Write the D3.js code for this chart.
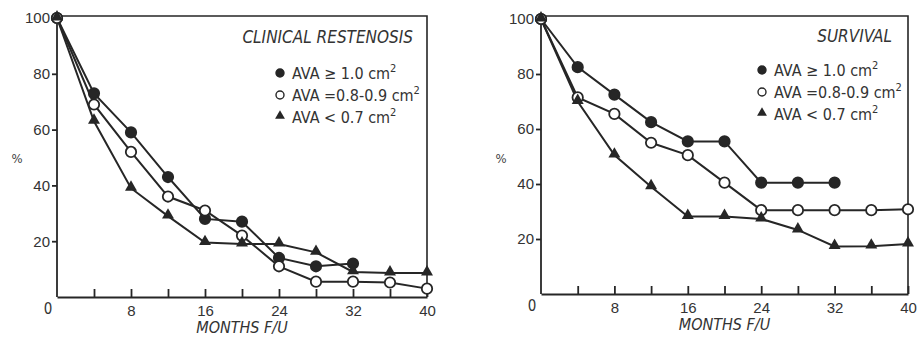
<!DOCTYPE html>
<html>
<head>
<meta charset="utf-8">
<script src="https://cdn.jsdelivr.net/npm/d3@7"></script>
<style>
  body { margin: 0; background: #fff; }
  svg { display: block; font-family: "Liberation Sans Narrow", "DejaVu Sans Condensed", "Liberation Sans", sans-serif; }
</style>
</head>
<body>
<figure id="charts" style="margin:0"></figure>
<script>
// months of follow-up
const months = [0, 4, 8, 12, 16, 20, 24, 28, 32, 36, 40];
const yTicks = [20, 40, 60, 80, 100];
const xTicks = [4, 8, 12, 16, 20, 24, 28, 32, 36, 40];
const xLabels = [8, 16, 24, 32, 40];

// clinical restenosis (%)
const restenosisLarge = [100, 73, 59, 43, 28, 27, 14, 11, 12];
const restenosisMid = [100, 69, 52, 36, 31, 22, 11, 5.5, 5.5, 5.2, 3];
const restenosisSmall = [100, 63, 39, 29, 19.5, 19, 19, 16, 9, 8.6, 8.6];

// survival (%)
const survivalLarge = [100, 82.5, 72.5, 62.5, 55.5, 55.5, 40.5, 40.5, 40.5];
const survivalMid = [100, 71.5, 65.5, 55, 50.5, 40.5, 30.5, 30.5, 30.5, 30.5, 30.8];
const survivalSmall = [100, 70, 50.5, 39, 28.2, 28.2, 27.3, 23.3, 17.3, 17.4, 18.2];

const legendLabels = ["AVA \u2265 1.0 cm", "AVA =0.8-0.9 cm", "AVA < 0.7 cm"];
const markerTypes = ["filled", "open", "triangle"];

const ink = "#262626";

const svg = d3.select("figure#charts")
  .append("svg")
  .attr("width", 918)
  .attr("height", 342);

function drawPanel(p) {
  const x = d3.scaleLinear().domain([0, 40]).range([p.left, p.right]);
  const y = d3.scaleLinear().domain([0, 100]).range([p.bottom, p.top100]);
  const g = svg.append("g");

  // frame top + right
  g.append("path")
    .attr("d", `M${p.left},${p.frameTop}H${p.right}V${p.bottom}`)
    .attr("fill", "none").attr("stroke", ink).attr("stroke-width", 1.6);

  // Y axis
  g.append("g")
    .attr("transform", "translate(" + p.left + ",0)")
    .call(d3.axisLeft(y).tickValues(yTicks).tickSize(5).tickSizeOuter(0).tickPadding(2))
    .call(a => a.select(".domain").attr("d", `M0,${p.bottom}V${p.frameTop}`))
    .call(a => a.selectAll("line, path").attr("stroke", ink).attr("stroke-width", 1.8))
    .call(a => a.selectAll("text").attr("fill", "#333").style("font-size", "15px").style("font-family", null));

  // X axis (ticks point inward)
  g.append("g")
    .attr("transform", "translate(0," + p.bottom + ")")
    .call(d3.axisBottom(x).tickValues(xTicks).tickSize(-8).tickSizeOuter(0).tickPadding(8)
      .tickFormat(d => xLabels.includes(d) ? d : ""))
    .call(a => a.selectAll("line, path").attr("stroke", ink).attr("stroke-width", 1.8))
    .call(a => a.selectAll("text").attr("fill", "#333").style("font-size", "15px").style("font-family", null));

  g.append("text")
    .attr("x", p.left - 9).attr("y", p.bottom + 17)
    .attr("text-anchor", "middle").attr("fill", "#333").style("font-size", "15px")
    .text("0");

  g.append("text")
    .attr("x", p.pctX).attr("y", 163)
    .attr("text-anchor", "middle").attr("fill", "#444").style("font-size", "13px")
    .text("%");

  g.append("text")
    .attr("x", (p.left + p.right) / 2).attr("y", p.bottom + 36)
    .attr("text-anchor", "middle").attr("fill", "#333")
    .style("font-size", "16px").style("font-style", "italic")
    .text("MONTHS F/U");

  g.append("text")
    .attr("x", p.titleX).attr("y", p.titleY)
    .attr("text-anchor", "end").attr("fill", "#333")
    .style("font-size", "17px").style("font-style", "italic")
    .text(p.title);

  const line = d3.line().x((d, i) => x(months[i])).y(d => y(d));
  const tri = d3.symbol().type(d3.symbolTriangle).size(62);

  // lines first, markers on top
  p.series.forEach(s => {
    g.append("path")
      .datum(s)
      .attr("d", line)
      .attr("fill", "none")
      .attr("stroke", ink)
      .attr("stroke-width", 2);
  });

  p.series.forEach((s, k) => {
    const type = markerTypes[k];
    const pts = g.append("g").selectAll("dot")
      .data(s)
      .enter();
    if (type == "triangle") {
      pts.append("path")
        .attr("d", tri)
        .attr("transform", (d, i) => "translate(" + x(months[i]) + "," + (y(d) - 1) + ")")
        .attr("fill", ink);
    } else {
      pts.append("circle")
        .attr("cx", (d, i) => x(months[i]))
        .attr("cy", d => y(d))
        .attr("r", 5.2)
        .attr("fill", type == "filled" ? ink : "#fff")
        .attr("stroke", ink)
        .attr("stroke-width", 1.8);
    }
  });

  // legend
  legendLabels.forEach((lab, k) => {
    const ly = p.legendY + k * 22;
    const type = markerTypes[k];
    if (type == "triangle") {
      g.append("path").attr("d", d3.symbol().type(d3.symbolTriangle).size(42))
        .attr("transform", "translate(" + p.legendX + "," + (ly - 1) + ")")
        .attr("fill", ink);
    } else {
      g.append("circle").attr("cx", p.legendX).attr("cy", ly).attr("r", 4)
        .attr("fill", type == "filled" ? ink : "#fff")
        .attr("stroke", ink).attr("stroke-width", 1.4);
    }
    const t = g.append("text")
      .attr("x", p.legendX + 12).attr("y", ly + 6)
      .attr("fill", "#333").style("font-size", "16px");
    t.append("tspan").text(lab);
    t.append("tspan").attr("dy", -7).style("font-size", "11px").text("2");
  });
}

drawPanel({
  left: 57, right: 427, bottom: 297, top100: 18, frameTop: 16,
  pctX: 17, titleX: 413, titleY: 43, title: "CLINICAL RESTENOSIS",
  legendX: 280, legendY: 73,
  series: [restenosisLarge, restenosisMid, restenosisSmall]
});

drawPanel({
  left: 541, right: 908, bottom: 294, top100: 19, frameTop: 16,
  pctX: 501, titleX: 892, titleY: 42, title: "SURVIVAL",
  legendX: 762, legendY: 70,
  series: [survivalLarge, survivalMid, survivalSmall]
});
</script>
</body>
</html>
